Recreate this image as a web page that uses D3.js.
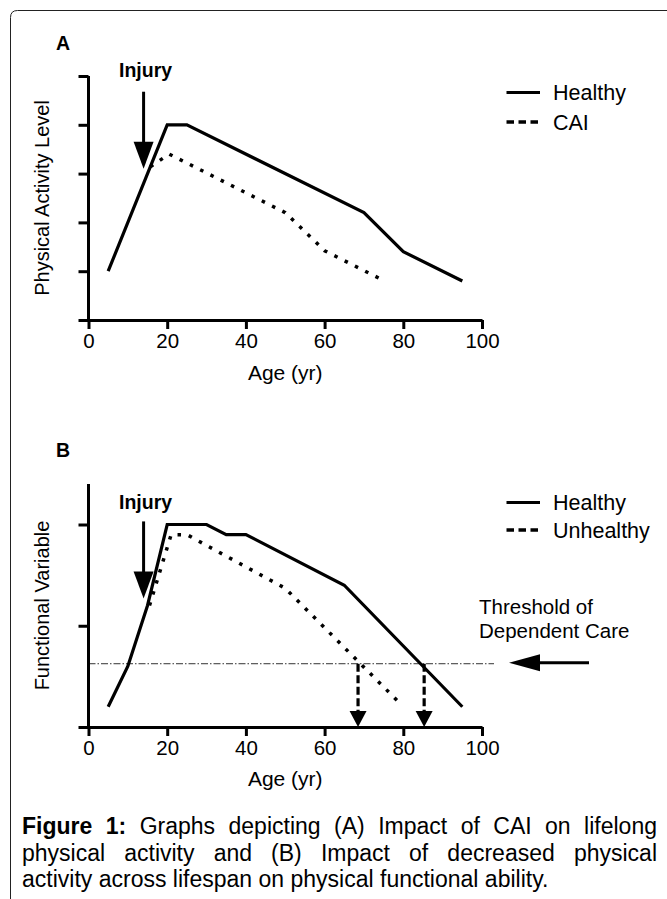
<!DOCTYPE html>
<html><head><meta charset="utf-8">
<script src="https://cdn.jsdelivr.net/npm/d3@7"></script>
<style>body{margin:0;background:#fff} svg{display:block} text{font-family:"Liberation Sans",Arial,sans-serif;fill:#000}</style>
</head><body>
<svg id="c" width="667" height="899"></svg>
<script>
// ---- data ----
const xTicks = [0, 20, 40, 60, 80, 100];
const xTickLabels = ["0", "20", "40", "60", "80", "100"];
const yTicksA = [0, 1, 2, 3, 4, 5];
const yTicksB = [0, 1, 2];

const ageHealthyA = [5, 20, 25, 70, 80, 95];
const valHealthyA = [1, 4, 4, 2.2, 1.4, 0.8];
const ageCAI = [15.7, 20.5, 50, 60, 74];
const valCAI = [3.14, 3.4, 2.2, 1.42, 0.85];

const ageHealthyB = [5, 10, 15, 20, 30, 35, 40, 65, 95];
const valHealthyB = [0.2, 0.6, 1.2, 2, 2, 1.9, 1.9, 1.4, 0.2];
const ageUnhealthyB = [15.5, 21, 25, 50, 79.5];
const valUnhealthyB = [1.2, 1.9, 1.9, 1.37, 0.22];

const threshold = 0.625;
const dependentAges = [68.5, 85.3];
const injuryAge = 14;
const injuryTipA = 3.1;
const injuryTipB = 1.27;

const legendA = ["Healthy", "CAI"];
const legendB = ["Healthy", "Unhealthy"];
const captionLines = [
  "Figure 1: Graphs depicting (A) Impact of CAI on lifelong",
  "physical activity and (B) Impact of decreased physical",
  "activity across lifespan on physical functional ability."
];

// ---- drawing ----
const svg = d3.select("#c");
svg.append("rect").attr("width", 667).attr("height", 899).attr("fill", "#fff");
svg.append("path").attr("d", "M10.5,899V17.5Q10.5,10.5 17.5,10.5H667")
  .attr("fill", "none").attr("stroke", "#222").attr("stroke-width", 1);

const xA = d3.scaleLinear().domain([0, 100]).range([88.5, 482]);
const yA = d3.scaleLinear().domain([0, 5]).range([320, 76]);
const xB = d3.scaleLinear().domain([0, 100]).range([88.5, 482]);
const yB = d3.scaleLinear().domain([0, 2.4]).range([727, 484]);

function zip(a, v) { return a.map((d, i) => [d, v[i]]); }

function drawAxes(g, x, y, yTicks, yTop) {
  const xa = g.append("g").attr("transform", `translate(0,${y(0)})`)
    .call(d3.axisBottom(x).tickValues(xTicks).tickFormat((d, i) => xTickLabels[i]).tickSize(9).tickSizeOuter(0).tickPadding(6));
  const ya = g.append("g").attr("transform", `translate(${x(0)},0)`)
    .call(d3.axisLeft(y).tickValues(yTicks).tickFormat("").tickSize(10).tickSizeOuter(0));
  ya.select(".domain").attr("d", `M0,${y(0)}V${y(yTop)}`);
  [xa, ya].forEach(a => {
    a.selectAll("path,line").attr("stroke", "#000").attr("stroke-width", 3);
    a.selectAll("text").attr("font-size", 20.5).attr("font-family", "Liberation Sans, Arial").attr("fill", "#000");
  });
  xa.selectAll("text").attr("dy", null).attr("y", 27.5);
}

function drawInjury(g, x, y, age, tipVal, textY) {
  const tx = x(age), ty = y(tipVal);
  g.append("line").attr("x1", tx).attr("x2", tx).attr("y1", ty - 77).attr("y2", ty - 20)
    .attr("stroke", "#000").attr("stroke-width", 3);
  g.append("path").attr("d", `M${tx - 10},${ty - 27}L${tx + 10},${ty - 27}L${tx},${ty}Z`).attr("fill", "#000");
  g.append("text").attr("x", tx + 2).attr("y", textY).attr("text-anchor", "middle")
    .attr("font-size", 19.5).attr("font-weight", "bold").text("Injury");
}

function drawLegend(g, labels, y1, y2) {
  g.append("line").attr("x1", 506.5).attr("x2", 540).attr("y1", y1).attr("y2", y1)
    .attr("stroke", "#000").attr("stroke-width", 3.2);
  g.append("line").attr("x1", 506.5).attr("x2", 538).attr("y1", y2).attr("y2", y2)
    .attr("stroke", "#000").attr("stroke-width", 3.5).attr("stroke-dasharray", "7.5,4.5");
  g.append("text").attr("x", 553).attr("y", y1 + 7.5).attr("font-size", 21.5).text(labels[0]);
  g.append("text").attr("x", 553).attr("y", y2 + 7.5).attr("font-size", 21.5).text(labels[1]);
}

const line = (x, y) => d3.line().x(d => x(d[0])).y(d => y(d[1]));

// Panel A
const gA = svg.append("g");
gA.append("text").attr("x", 56).attr("y", 50).attr("font-size", 19.5).attr("font-weight", "bold").text("A");
drawAxes(gA, xA, yA, yTicksA, 5);
gA.append("path").attr("d", line(xA, yA)(zip(ageCAI, valCAI))).attr("fill", "none")
  .attr("stroke", "#000").attr("stroke-width", 3.5).attr("stroke-dasharray", "3.5,8");
gA.append("path").attr("d", line(xA, yA)(zip(ageHealthyA, valHealthyA))).attr("fill", "none")
  .attr("stroke", "#000").attr("stroke-width", 3.2);
drawInjury(gA, xA, yA, injuryAge, injuryTipA, 77);
drawLegend(gA, legendA, 92.5, 122);
gA.append("text").attr("transform", `translate(49,${(yA(0) + yA(5)) / 2}) rotate(-90)`)
  .attr("text-anchor", "middle").attr("font-size", 20).text("Physical Activity Level");
gA.append("text").attr("x", (xA(0) + xA(100)) / 2).attr("y", 380).attr("text-anchor", "middle")
  .attr("font-size", 21).text("Age (yr)");

// Panel B
const gB = svg.append("g");
gB.append("text").attr("x", 56).attr("y", 457).attr("font-size", 19.5).attr("font-weight", "bold").text("B");
// threshold line
gB.append("line").attr("x1", xB(0)).attr("x2", 494).attr("y1", yB(threshold)).attr("y2", yB(threshold))
  .attr("stroke", "#333").attr("stroke-width", 1).attr("stroke-dasharray", "7,2,1.5,2");
drawAxes(gB, xB, yB, yTicksB, 2.4);
gB.append("path").attr("d", line(xB, yB)(zip(ageUnhealthyB, valUnhealthyB))).attr("fill", "none")
  .attr("stroke", "#000").attr("stroke-width", 3.5).attr("stroke-dasharray", "3.5,8");
gB.append("path").attr("d", line(xB, yB)(zip(ageHealthyB, valHealthyB))).attr("fill", "none")
  .attr("stroke", "#000").attr("stroke-width", 3.2);
// dependent care arrows
dependentAges.forEach(a => {
  const ax = xB(a), y0 = yB(threshold), y1 = yB(0);
  gB.append("line").attr("x1", ax).attr("x2", ax).attr("y1", y0).attr("y2", y1 - 12)
    .attr("stroke", "#000").attr("stroke-width", 3.2).attr("stroke-dasharray", "8,3.5");
  gB.append("path").attr("d", `M${ax - 8.5},${y1 - 16}L${ax + 8.5},${y1 - 16}L${ax},${y1}Z`).attr("fill", "#000");
});
// threshold pointer arrow
const ty = yB(threshold) - 1;
gB.append("line").attr("x1", 589).attr("x2", 532).attr("y1", ty).attr("y2", ty).attr("stroke", "#000").attr("stroke-width", 3);
gB.append("path").attr("d", `M540,${ty - 8.5}L540,${ty + 8.5}L509,${ty}Z`).attr("fill", "#000");
gB.append("text").attr("x", 479).attr("y", 614).attr("font-size", 20.5).text("Threshold of");
gB.append("text").attr("x", 479).attr("y", 638).attr("font-size", 20.5).text("Dependent Care");
drawInjury(gB, xB, yB, injuryAge, injuryTipB, 509);
drawLegend(gB, legendB, 502.5, 530);
gB.append("text").attr("transform", `translate(49,${(yB(0) + yB(2.4)) / 2}) rotate(-90)`)
  .attr("text-anchor", "middle").attr("font-size", 20).text("Functional Variable");
gB.append("text").attr("x", (xB(0) + xB(100)) / 2).attr("y", 786).attr("text-anchor", "middle")
  .attr("font-size", 21).text("Age (yr)");

// Caption, justified
const cap = svg.append("g");
const left = 22, right = 657, fs = 23;
captionLines.forEach((ln, li) => {
  const words = ln.split(" ");
  const yy = 834 + li * 26.5;
  const nodes = words.map((w, wi) => cap.append("text").attr("y", yy).attr("font-size", fs)
    .attr("font-weight", (li === 0 && wi < 2) ? "bold" : "normal").text(w));
  const widths = nodes.map(n => n.node().getComputedTextLength());
  const total = d3.sum(widths);
  const justify = li < captionLines.length - 1;
  const gap = justify ? (right - left - total) / (words.length - 1) : fs * 0.278;
  let cx = left;
  nodes.forEach((n, i) => { n.attr("x", cx); cx += widths[i] + gap; });
});
</script>
</body></html>
